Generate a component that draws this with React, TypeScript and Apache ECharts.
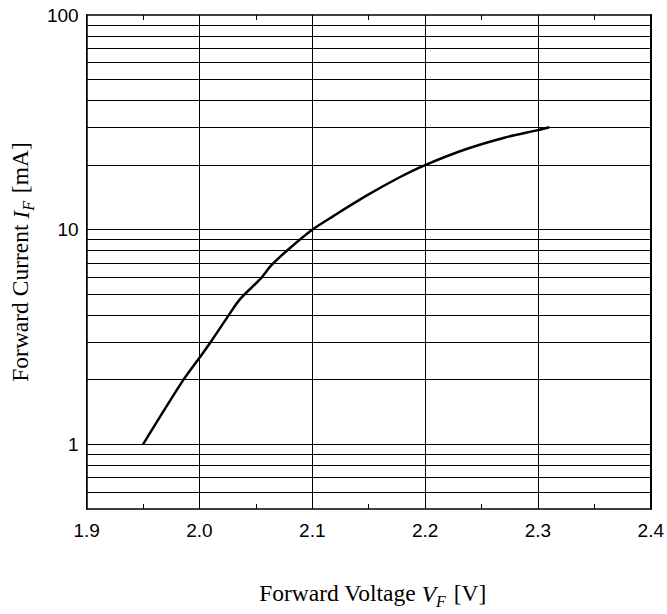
import React, { useEffect, useRef } from "react";
import * as echarts from "echarts";

const voltage = [1.95, 1.985, 2.0, 2.01, 2.026, 2.036, 2.054, 2.064, 2.08, 2.1, 2.119, 2.148, 2.177, 2.2, 2.236, 2.271, 2.3, 2.31];
const current = [1, 1.97, 2.53, 3.0, 4.0, 4.75, 5.9, 6.85, 8.2, 10, 11.6, 14.4, 17.5, 20, 23.7, 26.9, 29.1, 30];
const yGridValues = [0.6, 0.7, 0.8, 0.9, 1, 2, 3, 4, 5, 6, 7, 8, 9, 10, 20, 30, 40, 50, 60, 70, 80, 90];
const yTickLabels = [1, 10, 100];

export default function App() {
  const ref = useRef<HTMLDivElement>(null);
  useEffect(() => {
    const chart = echarts.init(ref.current!, null, { renderer: "svg" });
    const tickFont = { fontFamily: "'Liberation Sans Narrow', 'Liberation Sans', Arial, sans-serif", fontSize: 19, color: "#000" };
    const serif = "'Liberation Serif', 'Times New Roman', serif";
    const rich = {
      a: { fontFamily: serif, fontSize: 23.5, color: "#000", lineHeight: 28, verticalAlign: "bottom" },
      i: { fontFamily: serif, fontSize: 23.5, fontStyle: "italic", color: "#000", lineHeight: 28, verticalAlign: "bottom" },
      s: { fontFamily: serif, fontSize: 16, fontStyle: "italic", color: "#000", lineHeight: 28, verticalAlign: "bottom", padding: [0, 2, -4, 0] },
    };
    const nameStyle = { fontFamily: serif, fontSize: 23.5, color: "#000", rich, padding: [0, 0, 0, 8] };
    chart.setOption({
      animation: false,
      backgroundColor: "#fff",
      grid: { left: 85, right: 14, top: 15, bottom: 102, containLabel: false },
      xAxis: [
        {
          type: "value",
          min: 1.9,
          max: 2.4,
          interval: 0.1,
          position: "bottom",
          axisLine: { show: true, lineStyle: { color: "#000", width: 1.5 } },
          axisTick: { show: true, inside: true, length: 5, lineStyle: { color: "#000" } },
          minorTick: { show: true, splitNumber: 2, length: 5, lineStyle: { color: "#000" } },
          splitLine: { show: true, lineStyle: { color: "#000", width: 1 } },
          axisLabel: { ...tickFont, margin: 12, formatter: (v: number) => v.toFixed(1) },
          name: "{a|Forward Voltage }{i|V}{s|F}{a| [V]}",
          nameLocation: "middle",
          nameGap: 68,
          nameTextStyle: nameStyle,
        },
        {
          type: "value",
          min: 1.9,
          max: 2.4,
          interval: 0.1,
          position: "top",
          axisLine: { show: true, lineStyle: { color: "#000", width: 1.5 } },
          axisTick: { show: true, inside: true, length: 5, lineStyle: { color: "#000" } },
          minorTick: { show: true, splitNumber: 2, length: 5, lineStyle: { color: "#000" } },
          splitLine: { show: false },
          axisLabel: { show: false },
        },
      ],
      yAxis: [
        {
          type: "log",
          logBase: 10,
          min: 0.5,
          max: 100,
          position: "left",
          axisLine: { show: true, lineStyle: { color: "#000", width: 1.5 } },
          axisTick: { show: false },
          splitLine: { show: false },
          axisLabel: {
            ...tickFont,
            margin: 8,
            formatter: (v: number) => {
              const hit = yTickLabels.find((t) => Math.abs(t - v) / t < 1e-6);
              return hit !== undefined ? String(hit) : "";
            },
          },
          name: "{a|Forward Current }{i|I}{s|F}{a| [mA]}",
          nameLocation: "middle",
          nameRotate: 90,
          nameGap: 50,
          nameTextStyle: { ...nameStyle, padding: [0, 0, 0, 0] },
        },
        {
          type: "log",
          logBase: 10,
          min: 0.5,
          max: 100,
          position: "right",
          axisLine: { show: true, lineStyle: { color: "#000", width: 2 } },
          axisTick: { show: false },
          splitLine: { show: false },
          axisLabel: { show: false },
        },
      ],
      series: [
        {
          type: "line",
          data: voltage.map((v, i) => [v, current[i]]),
          showSymbol: false,
          smooth: 0.3,
          lineStyle: { color: "#000", width: 2.5 },
          markLine: {
            silent: true,
            symbol: "none",
            label: { show: false },
            lineStyle: { color: "#000", width: 1, type: "solid" },
            data: yGridValues.map((y) => ({ yAxis: y })),
          },
          z: 5,
        },
      ],
    });
    return () => chart.dispose();
  }, []);
  return <div ref={ref} style={{ position: "fixed", left: 0, top: 0, width: 667, height: 614 }} />;
}
